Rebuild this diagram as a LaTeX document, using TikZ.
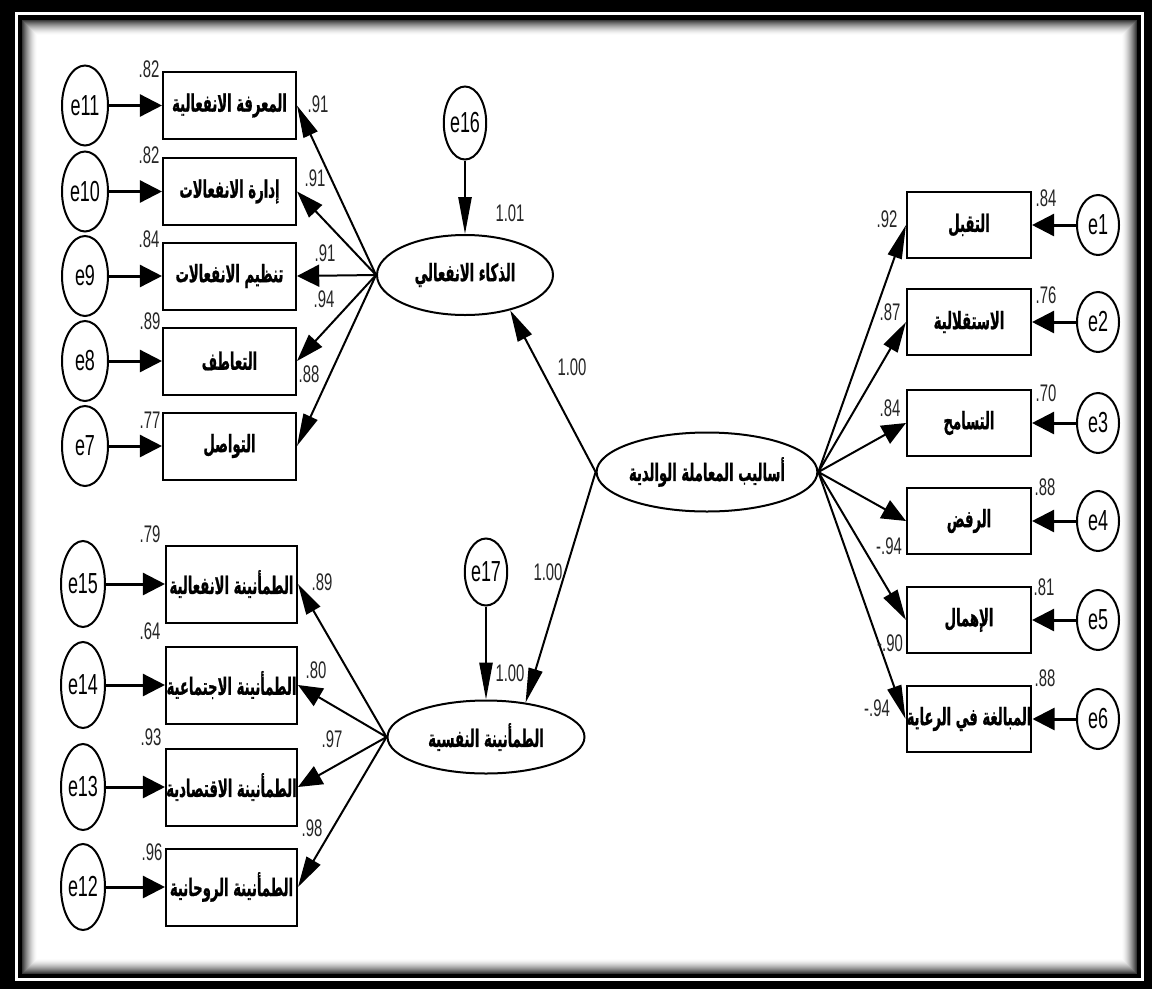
\documentclass[tikz,border=0pt]{standalone}
\usepackage{fontspec}
\setmainfont{Liberation Sans}
\TeXXeTstate=1
\newfontfamily\arabicfont[Script=Arabic,FakeStretch=0.55,FakeBold=0.8]{DejaVu Sans}
\newfontfamily\narrowfont[FakeStretch=0.62]{Liberation Sans}
\usetikzlibrary{arrows.meta,shapes.geometric,calc}
\newcommand\artxt[1]{{\arabicfont\bfseries\beginR #1\endR}}

% Arrow whose head is a 37x22 triangle compressed horizontally to 0.6,
% so its length and width depend on the direction of the path.
\newcommand\sqarrow[3]{%
  \path let \p1=($#3-#2$) in \pgfextra{%
    \pgfmathsetmacro\sqc{abs(\x1)/veclen(\x1,\y1)}%
    \pgfmathsetmacro\sqs{abs(\y1)/veclen(\x1,\y1)}%
    \pgfmathsetmacro\sqn{sqrt((\sqc/0.6)^2+\sqs^2)}%
    \pgfmathsetmacro\sqL{37/\sqn}%
    \pgfmathsetmacro\sqW{22*(0.6*\sqs^2+\sqc^2/0.6)/\sqn}%
    \global\let\sqLg\sqL \global\let\sqWg\sqW};
  \draw[line width=#1, -{Triangle[length=\sqLg pt, width=\sqWg pt]}] #2 -- #3;
}

\tikzset{
  ind/.style={draw, rectangle, line width=2pt, inner sep=0pt, fill=white,
    font=\arabicfont\bfseries\fontsize{24}{26}\selectfont},
  indL/.style={ind, minimum width=133pt, minimum height=67pt},
  indB/.style={ind, minimum width=131pt, minimum height=77pt},
  indR/.style={ind, minimum width=124pt, minimum height=66pt},
  err/.style={draw, ellipse, line width=2pt, inner sep=0pt, fill=white,
    font=\narrowfont\fontsize{29}{31}\selectfont},
  errL/.style={err, minimum width=46pt, minimum height=80pt},
  errB/.style={err, minimum width=44pt, minimum height=86pt},
  errR/.style={err, minimum width=42pt, minimum height=60pt},
  lat/.style={draw, ellipse, line width=2pt, inner sep=0pt, fill=white,
    font=\arabicfont\bfseries\fontsize{24}{26}\selectfont},
  num/.style={inner sep=0pt, text=black!85, font=\narrowfont\fontsize{24}{26}\selectfont},
}

\begin{document}
\begin{tikzpicture}[x=1pt,y=-1pt]
\useasboundingbox (0,0) rectangle (1152,989);

% double frame with an inner shadow
\fill[black] (0,0) rectangle (1152,989);
\fill[white] (15,12) rectangle (1144,981);
\fill[black] (18,15) rectangle (1141,978);
\foreach \i in {0,...,14} {
  \pgfmathsetmacro\g{78*(1-\i/15)^1.6}
  \fill[black!\g] (22+\i,20+\i) rectangle (1137-\i,974-\i);
}
\fill[white] (37,35) rectangle (1122,959);

% latent variables
\node[lat, minimum width=176pt, minimum height=80pt] (ei) at (465,275) {\artxt{الذكاء الانفعالي}};
\node[lat, minimum width=215pt, minimum height=79pt] (pm) at (707,472) {\artxt{أساليب المعاملة الوالدية}};
\node[lat, minimum width=197pt, minimum height=73pt] (ps) at (486,737) {\artxt{الطمأنينة النفسية}};

% disturbances of the endogenous latents
\node[err, minimum width=35pt, minimum height=73pt] (e16) at (465,123) {e16};
\node[err, minimum width=37pt, minimum height=67pt] (e17) at (486,572) {e17};

% indicators of emotional intelligence
\node[indL] (b11) at (229.5,105.5) {\artxt{المعرفة الانفعالية}};
\node[indL] (b10) at (229.5,191.5) {\artxt{إدارة الانفعالات}};
\node[indL] (b9)  at (229.5,276)   {\artxt{تنظيم الانفعالات}};
\node[indL] (b8)  at (229.5,361)   {\artxt{التعاطف}};
\node[indL] (b7)  at (229.5,446)   {\artxt{التواصل}};

\node[errL] (e11) at (85,105.5) {e11};
\node[errL] (e10) at (85,191.5) {e10};
\node[errL] (e9)  at (85,276)   {e9};
\node[errL] (e8)  at (85,361)   {e8};
\node[errL] (e7)  at (85,446)   {e7};

% indicators of psychological security
\node[indB] (b15) at (231.5,584) {\artxt{الطمأنينة الانفعالية}};
\node[indB] (b14) at (231.5,685) {\artxt{الطمأنينة الاجتماعية}};
\node[indB] (b13) at (231.5,787) {\artxt{الطمأنينة الاقتصادية}};
\node[indB] (b12) at (231.5,887) {\artxt{الطمأنينة الروحانية}};

\node[errB] (e15) at (83,584) {e15};
\node[errB] (e14) at (83,685) {e14};
\node[errB] (e13) at (83,787) {e13};
\node[errB] (e12) at (83,887) {e12};

% indicators of parenting styles
\node[indR] (r1) at (969,225) {\artxt{التقبل}};
\node[indR] (r2) at (969,322) {\artxt{الاستقلالية}};
\node[indR] (r3) at (969,423) {\artxt{التسامح}};
\node[indR] (r4) at (969,521) {\artxt{الرفض}};
\node[indR] (r5) at (969,620) {\artxt{الإهمال}};
\node[indR] (r6) at (969,719) {\artxt{المبالغة في الرعاية}};

\node[errR] (e1) at (1098,225) {e1};
\node[errR] (e2) at (1098,322) {e2};
\node[errR] (e3) at (1098,423) {e3};
\node[errR] (e4) at (1098,521) {e4};
\node[errR] (e5) at (1098,620) {e5};
\node[errR] (e6) at (1098,719) {e6};

% structural paths
\sqarrow{2pt}{(pm.west)}{(ei.-38)}
\sqarrow{2pt}{(pm.west)}{(ps.41)}
\sqarrow{2pt}{(e16.south)}{(ei.north)}
\sqarrow{2pt}{(e17.south)}{(ps.north)}

% loadings
\foreach \b in {b11,b10,b9,b8,b7} {\sqarrow{2pt}{(ei.west)}{(\b.east)}}
\foreach \b in {b15,b14,b13,b12} {\sqarrow{2pt}{(ps.west)}{(\b.east)}}
\foreach \b in {r1,r2,r3,r4,r5,r6} {\sqarrow{2pt}{(pm.east)}{(\b.west)}}

% error terms
\foreach \e/\b in {e11/b11,e10/b10,e9/b9,e8/b8,e7/b7,e15/b15,e14/b14,e13/b13,e12/b12}
  {\sqarrow{3pt}{(\e.east)}{(\b.west)}}
\foreach \e/\b in {e1/r1,e2/r2,e3/r3,e4/r4,e5/r5,e6/r6}
  {\sqarrow{3pt}{(\e.west)}{(\b.east)}}

% estimates
\node[num] (n1)  at (510,213) {1.01};
\node[num] (n2)  at (572,367) {1.00};
\node[num] (n3)  at (548,572) {1.00};
\node[num] (n4)  at (510,673) {1.00};

\node[num] (v11) at (149,69)  {.82};
\node[num] (v10) at (149,155) {.82};
\node[num] (v9)  at (149,239) {.84};
\node[num] (v8)  at (150,321) {.89};
\node[num] (v7)  at (150,420) {.77};
\node[num] (l11) at (318,104) {.91};
\node[num] (l10) at (315,178) {.91};
\node[num] (l9)  at (325,253) {.91};
\node[num] (l8)  at (324,299) {.94};
\node[num] (l7)  at (309,374) {.88};

\node[num] (v15) at (150,534) {.79};
\node[num] (v14) at (150,631) {.64};
\node[num] (v13) at (151,737) {.93};
\node[num] (v12) at (152,852) {.96};
\node[num] (l15) at (322,582) {.89};
\node[num] (l14) at (316,670) {.80};
\node[num] (l13) at (332,739) {.97};
\node[num] (l12) at (312,828) {.98};

\node[num] (v1) at (1046,198) {.84};
\node[num] (v2) at (1046,295) {.76};
\node[num] (v3) at (1046,393) {.70};
\node[num] (v4) at (1045,487) {.88};
\node[num] (v5) at (1044,587) {.81};
\node[num] (v6) at (1045,678) {.88};
\node[num] (r1l) at (887,219) {.92};
\node[num] (r2l) at (890,312) {.87};
\node[num] (r3l) at (890,408) {.84};
\node[num] (r4l) at (889,546) {-.94};
\node[num] (r5l) at (890,643) {-.90};
\node[num] (r6l) at (877,708) {-.94};
\end{tikzpicture}
\end{document}
